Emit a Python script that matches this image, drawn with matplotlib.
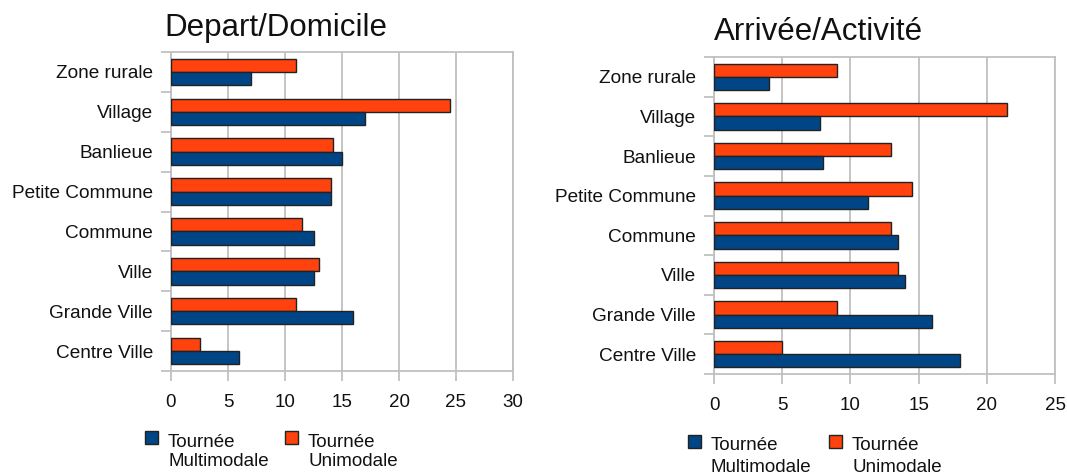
import numpy as np
import matplotlib
matplotlib.use("Agg")
import matplotlib.pyplot as plt
from matplotlib.patches import Rectangle

plt.rcParams['font.family'] = ['Liberation Sans', 'DejaVu Sans']

# categories, top to bottom as shown
categories = ['Zone rurale', 'Village', 'Banlieue', 'Petite Commune',
              'Commune', 'Ville', 'Grande Ville', 'Centre Ville']

# Depart/Domicile
depart_multi = [7, 17, 15, 14, 12.5, 12.5, 16, 6]
depart_uni = [11, 24.5, 14.2, 14, 11.5, 13, 11, 2.5]

# Arrivee/Activite
arrivee_multi = [4, 7.8, 8, 11.3, 13.5, 14, 16, 18]
arrivee_uni = [9, 21.5, 13, 14.5, 13, 13.5, 9, 5]

legend_labels = [('Tournée', 'Multimodale'), ('Tournée', 'Unimodale')]

BLUE = '#004586'
ORANGE = '#ff420e'
GRID = '#c0c0c0'

W, H = 1067, 475
fig = plt.figure(figsize=(W / 100, H / 100), dpi=100)


def px_axes(x0, y0, x1, y1):
    return fig.add_axes([x0 / W, 1 - y1 / H, (x1 - x0) / W, (y1 - y0) / H])


def draw_panel(ax, multi, uni, xmax, title, title_xy):
    n = len(categories)
    pos = np.arange(n)[::-1]
    h = 0.333
    ax.barh(pos + h / 2, uni, height=h, color=ORANGE, edgecolor='#222222', linewidth=1, zorder=3)
    ax.barh(pos - h / 2, multi, height=h, color=BLUE, edgecolor='#222222', linewidth=1, zorder=3)
    ax.set_xlim(0, xmax)
    ax.set_ylim(-0.5, n - 0.5)
    ax.set_xticks(np.arange(0, xmax + 1, 5))
    ax.set_yticks(pos)
    ax.set_yticklabels(categories, fontsize=13.7, color='#111111')
    ax.set_yticks(np.arange(-0.5, n, 1), minor=True)
    ax.tick_params(axis='y', which='major', length=0, pad=13)
    ax.tick_params(axis='y', which='minor', length=7.5, color=GRID, width=1.3)
    ax.tick_params(axis='x', length=7.5, color=GRID, width=1.3, labelsize=13.5,
                   labelcolor='#111111', pad=9)
    ax.grid(axis='x', color=GRID, linewidth=1.3, zorder=0)
    for s in ax.spines.values():
        s.set_color(GRID)
        s.set_linewidth(1.3)
    fig.text(title_xy[0] / W, 1 - title_xy[1] / H, title, fontsize=22.5,
             ha='left', va='baseline', color='#111111')


ax1 = px_axes(171, 52, 513, 371)
draw_panel(ax1, depart_multi, depart_uni, 30, 'Depart/Domicile', (164, 36))

ax2 = px_axes(714, 57, 1055, 374)
draw_panel(ax2, arrivee_multi, arrivee_uni, 25, 'Arrivée/Activité', (714, 40))


def draw_legend(x0, top, base1, base2, step):
    colors = [BLUE, ORANGE]
    for i, (color, (l1, l2)) in enumerate(zip(colors, legend_labels)):
        x = x0 + i * step
        fig.patches.append(Rectangle((x / W, 1 - (top + 13) / H), 13 / W, 13 / H,
                                     transform=fig.transFigure, facecolor=color,
                                     edgecolor='#222222', linewidth=1))
        fig.text((x + 23) / W, 1 - base1 / H, l1, fontsize=13.5, ha='left',
                 va='baseline', color='#111111')
        fig.text((x + 23) / W, 1 - base2 / H, l2, fontsize=13.5, ha='left',
                 va='baseline', color='#111111')


draw_legend(145, 431, 447, 466, 140)
draw_legend(688, 435, 450, 472, 141)

fig.savefig('out.png', dpi=100)
